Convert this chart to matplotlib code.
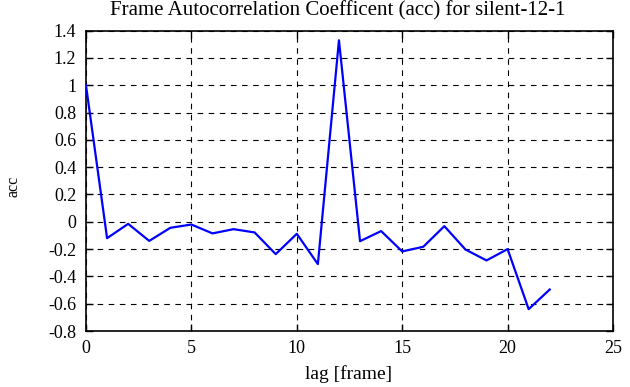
import matplotlib
matplotlib.use("Agg")
import matplotlib.pyplot as plt
from matplotlib.ticker import FuncFormatter

# lag in frames and autocorrelation coefficient
lag = list(range(23))
acc = [1.0, -0.12, -0.015, -0.14, -0.044, -0.02, -0.085, -0.054, -0.078,
       -0.237, -0.088, -0.31, 1.33, -0.142, -0.068, -0.217, -0.183, -0.032,
       -0.203, -0.283, -0.2, -0.64, -0.496]

x_ticks = [0, 5, 10, 15, 20, 25]
y_ticks = [-0.8, -0.6, -0.4, -0.2, 0, 0.2, 0.4, 0.6, 0.8, 1, 1.2, 1.4]

plt.rcParams["font.family"] = ["Liberation Serif", "DejaVu Serif"]

fig = plt.figure(figsize=(6.3, 3.87), dpi=100)
ax = fig.add_axes([0.1365, 0.1447, 0.8365, 0.776])

ax.plot(lag, acc, color="#0000ff", linewidth=1.6, zorder=3)

ax.set_xlim(0, 25)
ax.set_ylim(-0.8, 1.4)
ax.set_xticks(x_ticks)
ax.set_yticks(y_ticks)
ax.yaxis.set_major_formatter(FuncFormatter(lambda v, p: f"{v:g}"))
ax.xaxis.set_major_formatter(FuncFormatter(lambda v, p: f"{v:g}"))

ax.grid(True, color="black", linestyle=(0, (5, 5)), linewidth=0.8)
ax.tick_params(direction="in", length=5, width=1, top=True, right=True,
               labelsize=13, colors="black")
ax.tick_params(axis="x", pad=6.5)
ax.tick_params(axis="y", pad=7)
for s in ax.spines.values():
    s.set_linewidth(1.2)

fig.text(338 / 630, 1 - 11 / 387, "Frame Autocorrelation Coefficent (acc) for silent-12-1",
         ha="center", va="center", fontsize=15)
fig.text(349 / 630, 1 - 374 / 387, "lag [frame]", ha="center", va="center", fontsize=14)
fig.text(14 / 630, 1 - 186 / 387, "acc", ha="center", va="center", rotation=90, fontsize=11.5)

fig.savefig("out.png", dpi=100)
